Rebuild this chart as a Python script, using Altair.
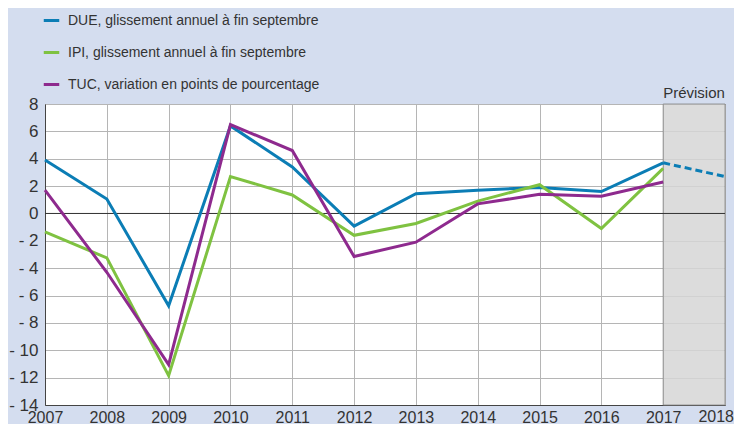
import altair as alt
import pandas as pd

years = list(range(2007, 2018))
due = [3.9, 1.05, -6.75, 6.4, 3.4, -0.93, 1.44, 1.7, 1.9, 1.6, 3.7]
ipi = [-1.35, -3.25, -11.85, 2.7, 1.35, -1.6, -0.73, 0.9, 2.1, -1.1, 3.3]
tuc = [1.7, -4.3, -11.05, 6.5, 4.6, -3.15, -2.1, 0.7, 1.4, 1.26, 2.3]
due_forecast_years = [2017, 2018]
due_forecast = [3.7, 2.7]
x_ticks = list(range(2007, 2019))
y_ticks = list(range(-14, 9, 2))

series_names = [
    "DUE, glissement annuel à fin septembre",
    "IPI, glissement annuel à fin septembre",
    "TUC, variation en points de pourcentage",
]
colors = ["#0b7db5", "#7fc241", "#8e2a8e"]

FONT = "Liberation Sans"
TXT = "#333333"

rows = []
for name, vals in zip(series_names, [due, ipi, tuc]):
    for y, v in zip(years, vals):
        rows.append({"year": y, "value": v, "series": name})
df = pd.DataFrame(rows)
fc = pd.DataFrame({"year": due_forecast_years, "value": due_forecast, "series": series_names[0]})

xscale = alt.Scale(domain=[2007, 2018], nice=False, zero=False)
yscale = alt.Scale(domain=[-14, 8], nice=False)

xaxis = alt.Axis(values=x_ticks, format="d", title=None, tickSize=0,
                 labelPadding=4, labelFontSize=16, labelColor=TXT, labelFont=FONT,
                 gridColor="#b5b5b5", domainColor="#444", labelFlush=False,
                 labelOverlap=False, labelBound=False,
                 labelExpr="datum.value == 2018 ? '' : datum.label")
yaxis = alt.Axis(values=y_ticks, title=None, tickSize=0, labelPadding=7,
                 labelFontSize=17, labelColor=TXT, labelFont=FONT,
                 labelExpr="datum.value < 0 ? '- ' + abs(datum.value) : datum.label",
                 gridColor="#b5b5b5", domainColor="#444", labelOverlap=False,
                 labelFlush=False, labelBound=False)

rect = alt.Chart(pd.DataFrame({"x": [2017], "x2": [2018], "y": [-14], "y2": [8]})).mark_rect(
    fill="#d6d6d6", opacity=0.85, stroke="#888", strokeWidth=1
).encode(
    x=alt.X("x:Q", scale=xscale, axis=xaxis),
    x2="x2:Q",
    y=alt.Y("y:Q", scale=yscale, axis=yaxis),
    y2="y2:Q",
)

zero = alt.Chart(pd.DataFrame({"v": [0]})).mark_rule(color="#333", strokeWidth=1).encode(
    y=alt.Y("v:Q", scale=yscale, axis=yaxis)
)

lines = alt.Chart(df).mark_line(strokeWidth=3).encode(
    x=alt.X("year:Q", scale=xscale, axis=xaxis),
    y=alt.Y("value:Q", scale=yscale, axis=yaxis),
    color=alt.Color("series:N", scale=alt.Scale(domain=series_names, range=colors),
                    legend=alt.Legend(title=None, orient="none", legendX=-3, legendY=-93,
                                      symbolType="stroke", symbolSize=240, symbolStrokeWidth=3,
                                      labelFontSize=14, labelFont=FONT, labelColor=TXT,
                                      labelOffset=7, rowPadding=15, labelLimit=500)),
)

fcline = alt.Chart(fc).mark_line(strokeWidth=3, strokeDash=[7, 4], color=colors[0]).encode(
    x=alt.X("year:Q", scale=xscale, axis=xaxis),
    y=alt.Y("value:Q", scale=yscale, axis=yaxis),
)

label = alt.Chart(pd.DataFrame({"x": [2017], "y": [8], "t": ["Prévision"]})).mark_text(
    align="left", baseline="bottom", dx=0, dy=-3, fontSize=15, font=FONT, color=TXT
).encode(x=alt.X("x:Q", scale=xscale, axis=xaxis), y=alt.Y("y:Q", scale=yscale, axis=yaxis), text="t:N")

last_label = alt.Chart(pd.DataFrame({"x": [2018], "y": [-14], "t": ["2018"]})).mark_text(
    align="right", baseline="top", dx=9, dy=4, fontSize=16, font=FONT, color=TXT
).encode(x=alt.X("x:Q", scale=xscale, axis=xaxis), y=alt.Y("y:Q", scale=yscale, axis=yaxis), text="t:N")

chart = alt.layer(rect, zero, lines, fcline, label, last_label).properties(
    width=680, height=301,
    autosize=alt.AutoSizeParams(type="none"),
    padding={"left": 37, "top": 96, "right": 9, "bottom": 19},
    background="#d4ddef",
).configure_view(stroke="#444", strokeWidth=1, fill="white").configure_axis(
    labelOverlap=False
)

chart.save("out.html", embed_options={"renderer": "svg", "actions": False})
